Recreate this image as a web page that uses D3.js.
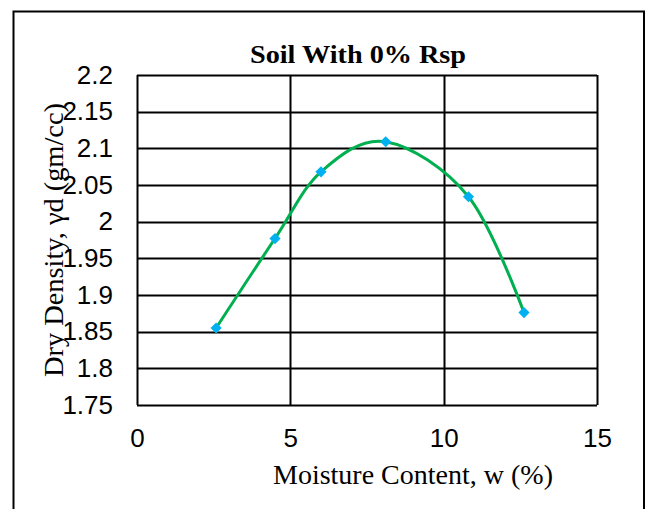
<!DOCTYPE html>
<html>
<head>
<meta charset="utf-8">
<script src="https://cdn.jsdelivr.net/npm/d3@7"></script>
<style>
html,body{margin:0;padding:0;background:#fff;}
svg{display:block;}
</style>
</head>
<body>
<svg id="chart" width="648" height="509"></svg>
<script>
const moisture = [2.58, 4.50, 6.00, 8.11, 10.81, 12.62];
const dryDensity = [1.855, 1.977, 2.068, 2.109, 2.034, 1.876];
const xTicks = [0, 5, 10, 15];
const yTicks = [1.75, 1.8, 1.85, 1.9, 1.95, 2.0, 2.05, 2.1, 2.15, 2.2];
const chartTitle = "Soil With 0% Rsp";
const xTitle = "Moisture Content, w (%)";
const yTitle = "Dry Density, γd (gm/cc)";

const svg = d3.select("#chart");
const W = 648, H = 509;
const m = {left: 137, right: 597, top: 75, bottom: 405};

// outer border
svg.append("path")
  .attr("d", `M13.5,${H+2} L13.5,11.5 L644,11.5 L644,${H+2}`)
  .attr("fill", "none").attr("stroke", "#000").attr("stroke-width", 2);

const x = d3.scaleLinear().domain([0, 15]).range([m.left, m.right]);
const y = d3.scaleLinear().domain([1.75, 2.2]).range([m.bottom, m.top]);

// grid
const g = svg.append("g");
g.selectAll("line.h").data(yTicks).join("line")
  .attr("x1", m.left).attr("x2", m.right)
  .attr("y1", d => Math.round(y(d)) + 0.5).attr("y2", d => Math.round(y(d)) + 0.5)
  .attr("stroke", "#000").attr("stroke-width", 2);
g.selectAll("line.v").data(xTicks).join("line")
  .attr("y1", m.top).attr("y2", m.bottom)
  .attr("x1", d => Math.round(x(d)) + 0.5).attr("x2", d => Math.round(x(d)) + 0.5)
  .attr("stroke", "#000").attr("stroke-width", 2);

// axes (labels only)
const fmtY = d => String(+d.toFixed(2));
const yAxis = svg.append("g").attr("transform", `translate(${m.left},0)`)
  .call(d3.axisLeft(y).tickValues(yTicks).tickFormat(fmtY).tickSize(0).tickPadding(24));
const xAxis = svg.append("g").attr("transform", `translate(0,${m.bottom})`)
  .call(d3.axisBottom(x).tickValues(xTicks).tickFormat(d3.format("d")).tickSize(0).tickPadding(24));
[yAxis, xAxis].forEach(a => {
  a.select(".domain").remove();
  a.selectAll("text").attr("font-family", "Liberation Sans, Arial, sans-serif")
    .attr("font-size", 26).attr("fill", "#000");
});

// curve
const pts = moisture.map((v, i) => [x(v), y(dryDensity[i])]);
svg.append("path")
  .attr("d", d3.line().curve(d3.curveCardinal.tension(0))(pts))
  .attr("fill", "none").attr("stroke", "#00B050").attr("stroke-width", 3);

svg.selectAll("path.mk").data(pts).join("path")
  .attr("class", "mk")
  .attr("d", d3.symbol().type(d3.symbolDiamond2).size(80))
  .attr("transform", d => `translate(${d[0]},${d[1]})`)
  .attr("fill", "#00B0F0");

// titles
svg.append("text").attr("x", 358).attr("y", 63).attr("text-anchor", "middle")
  .attr("font-family", "Liberation Serif, serif").attr("font-weight", "bold")
  .attr("font-size", 26).attr("textLength", 216).attr("lengthAdjust", "spacingAndGlyphs")
  .text(chartTitle);
svg.append("text").attr("x", 413).attr("y", 484).attr("text-anchor", "middle")
  .attr("font-family", "Liberation Serif, serif")
  .attr("font-size", 27).attr("textLength", 280).attr("lengthAdjust", "spacingAndGlyphs")
  .text(xTitle);
svg.append("text").attr("transform", "translate(63,240) rotate(-90)").attr("text-anchor", "middle")
  .attr("font-family", "Liberation Serif, serif")
  .attr("font-size", 27).attr("textLength", 274).attr("lengthAdjust", "spacingAndGlyphs")
  .text(yTitle);
</script>
</body>
</html>
